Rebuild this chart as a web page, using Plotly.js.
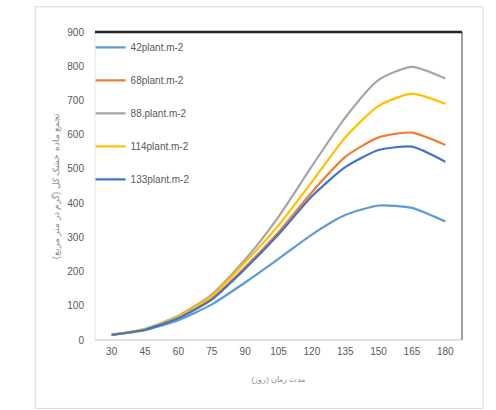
<!DOCTYPE html>
<html>
<head>
<meta charset="utf-8">
<script src="https://cdn.plot.ly/plotly-3.0.1.min.js"></script>
<style>
  html, body { margin: 0; padding: 0; background: #fff; }
  #chart { width: 496px; height: 410px; }
</style>
</head>
<body>
<div id="chart"></div>
<script>
// Days after sowing
const days = ['30', '45', '60', '75', '90', '105', '120', '135', '150', '165', '180'];

// Total dry matter per plant density
const density42  = [15, 29, 58, 104, 168, 237, 308, 365, 393, 386, 346];
const density68  = [15, 31, 66, 121, 213, 315, 432, 535, 592, 606, 570];
const density88  = [15, 33, 71, 133, 235, 360, 508, 650, 760, 798, 764];
const density114 = [15, 32, 69, 128, 227, 335, 462, 592, 684, 720, 690];
const density133 = [15, 30, 64, 118, 208, 308, 420, 505, 555, 565, 521];

const seriesNames = ['42plant.m-2', '68plant.m-2', '88.plant.m-2', '114plant.m-2', '133plant.m-2'];
const seriesValues = [density42, density68, density88, density114, density133];
const seriesColors = ['#5B9BD5', '#ED7D31', '#A5A5A5', '#FFC000', '#4472C4'];

const traces = seriesValues.map((vals, i) => ({
  x: days,
  y: vals,
  name: seriesNames[i],
  type: 'scatter',
  mode: 'lines',
  legendgroup: 'g' + i,
  line: { color: seriesColors[i], width: 2.2, shape: 'spline', smoothing: 0.6 }
}));

const layout = {
  width: 496,
  height: 410,
  margin: { l: 95, r: 34, t: 32, b: 70 },
  paper_bgcolor: '#ffffff',
  plot_bgcolor: '#ffffff',
  font: { family: 'Liberation Sans, Arial, sans-serif', color: '#595959', size: 10 },
  showlegend: true,
  legend: {
    x: -0.012, y: 0.997, xanchor: 'left', yanchor: 'top',
    bgcolor: 'rgba(255,255,255,0)',
    font: { size: 10, color: '#595959' },
    tracegroupgap: 14,
    itemwidth: 30
  },
  xaxis: {
    type: 'category',
    range: [-0.5, 10.5],
    showgrid: false,
    zeroline: false,
    showline: false,
    ticks: '',
    tickfont: { size: 10, color: '#595959' },
    ticklabelstandoff: 4,
    title: { text: 'مدت زمان (روز)', font: { size: 8, color: '#8c8c8c' }, standoff: 20 }
  },
  yaxis: {
    range: [0, 900],
    dtick: 100,
    showgrid: false,
    zeroline: false,
    showline: false,
    ticks: '',
    tickfont: { size: 10, color: '#595959' },
    ticklabelstandoff: 10,
    title: { text: 'تجمع ماده خشک کل (گرم در متر مربع)', font: { size: 9, color: '#8c8c8c' }, standoff: 6 }
  },
  shapes: [
    // outer chart frame
    { type: 'rect', xref: 'paper', yref: 'paper', x0: -0.163, x1: 1.057, y0: -0.222, y1: 1.082,
      line: { color: '#d9d9d9', width: 1 } },
    // plot area sides
    { type: 'line', xref: 'paper', yref: 'paper', x0: 0, x1: 1, y0: 0, y1: 0, line: { color: '#d9d9d9', width: 1.5 } },
    { type: 'line', xref: 'paper', yref: 'paper', x0: 0, x1: 0, y0: 0, y1: 1, line: { color: '#e3e3e3', width: 1 } },
    { type: 'line', xref: 'paper', yref: 'paper', x0: 1, x1: 1, y0: 0, y1: 1, line: { color: '#7f7f7f', width: 1.5 } },
    { type: 'line', xref: 'paper', yref: 'paper', x0: 0, x1: 1, y0: 1, y1: 1, line: { color: '#262626', width: 2.5 } }
  ]
};

Plotly.newPlot('chart', traces, layout, { displayModeBar: false, staticPlot: true });
</script>
</body>
</html>
